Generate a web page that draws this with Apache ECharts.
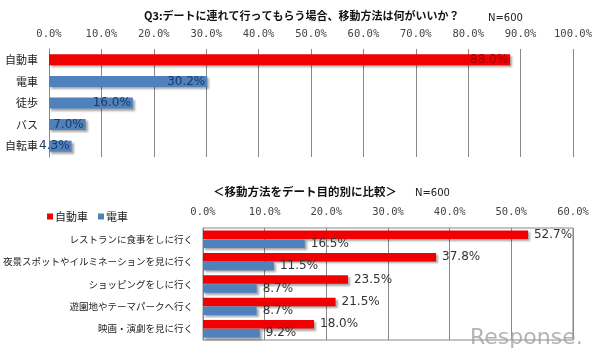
<!DOCTYPE html>
<html><head><meta charset="utf-8">
<script src="https://cdn.jsdelivr.net/npm/echarts@6/dist/echarts.min.js"></script>
<style>html,body{margin:0;padding:0;background:#fff}#c{width:597px;height:361px}</style>
</head><body><div id="c"></div>
<script>
const topCategories = ['自動車', '電車', '徒歩', 'バス', '自転車'];
const topValues = [88.0, 30.2, 16.0, 7.0, 4.3];
const topTicks = [0, 100, 10];
const bottomCategories = ['レストランに食事をしに行く', '夜景スポットやイルミネーションを見に行く', 'ショッピングをしに行く', '遊園地やテーマパークへ行く', '映画・演劇を見に行く'];
const carValues = [52.7, 37.8, 23.5, 21.5, 18.0];
const trainValues = [16.5, 11.5, 8.7, 8.7, 9.2];
const bottomTicks = [0, 60, 10];
const seriesNames = ['自動車', '電車'];

const RED = '#f00000', BLUE = '#4f81bd';
const FONT = '"Noto Sans CJK JP", sans-serif';
const shadow = {shadowColor: 'rgba(0,0,0,0.35)', shadowOffsetX: 2, shadowOffsetY: 2, shadowBlur: 2};
const pct = v => v.toFixed(1) + '%';

const chart = echarts.init(document.getElementById('c'), null, {renderer: 'canvas'});
chart.setOption({
  animation: false,
  textStyle: {fontFamily: FONT},
  title: [
    {text: 'Q3:デートに連れて行ってもらう場合、移動方法は何がいいか？', left: 139, top: 5,
     textStyle: {fontSize: 11, fontWeight: 'bold', color: '#111', fontFamily: FONT}},
    {text: 'N=600', left: 483, top: 8, textStyle: {fontSize: 10, fontWeight: 'normal', color: '#222', fontFamily: 'DejaVu Sans'}},
    {text: '＜移動方法をデート目的別に比較＞', left: 208, top: 181,
     textStyle: {fontSize: 11.5, fontWeight: 'bold', color: '#111', fontFamily: FONT}},
    {text: 'N=600', left: 410, top: 183, textStyle: {fontSize: 10, fontWeight: 'normal', color: '#222', fontFamily: 'DejaVu Sans'}}
  ],
  legend: {
    data: seriesNames, left: 42, top: 206, itemWidth: 6, itemHeight: 6, itemGap: 10,
    icon: 'rect', textStyle: {fontSize: 11, color: '#222', padding: [0, 0, 0, -3]}
  },
  grid: [
    {left: 49, right: 24, top: 49, bottom: 204, show: false, outerBoundsMode: 'none', containLabel: false},
    {left: 203, right: 24, top: 228, bottom: 21, show: true, borderColor: '#888', borderWidth: 1, outerBoundsMode: 'none', containLabel: false}
  ],
  xAxis: [
    {gridIndex: 0, type: 'value', position: 'top', min: topTicks[0], max: topTicks[1], interval: topTicks[2],
     axisLine: {show: false}, axisTick: {show: false},
     splitLine: {lineStyle: {color: '#888', width: 1}},
     axisLabel: {formatter: pct, fontSize: 10.5, color: '#444', margin: 9, fontFamily: 'DejaVu Sans Mono'}},
    {gridIndex: 1, type: 'value', position: 'top', min: bottomTicks[0], max: bottomTicks[1], interval: bottomTicks[2],
     axisLine: {show: false}, axisTick: {show: false},
     splitLine: {lineStyle: {color: '#888', width: 1}},
     axisLabel: {formatter: pct, fontSize: 10.5, color: '#444', margin: 10, fontFamily: 'DejaVu Sans Mono'}}
  ],
  yAxis: [
    {gridIndex: 0, type: 'category', data: topCategories, inverse: true,
     axisLine: {show: true, lineStyle: {color: '#888'}}, axisTick: {show: false},
     axisLabel: {fontSize: 11, color: '#222', margin: 11}},
    {gridIndex: 1, type: 'category', data: bottomCategories, inverse: true,
     axisLine: {show: true, lineStyle: {color: '#888'}}, axisTick: {show: false},
     axisLabel: {fontSize: 9.5, color: '#222', margin: 10}}
  ],
  series: [
    {type: 'bar', xAxisIndex: 0, yAxisIndex: 0, barWidth: 11,
     data: topValues.map((v, i) => ({
       value: v,
       itemStyle: Object.assign({color: i === 0 ? RED : BLUE}, shadow),
       label: {color: i === 0 ? '#9a0000' : '#1f3864'}
     })),
     label: {show: true, position: 'insideRight', distance: 2, formatter: p => pct(p.value), fontSize: 12, fontFamily: 'DejaVu Sans'}},
    {name: seriesNames[0], type: 'bar', xAxisIndex: 1, yAxisIndex: 1, data: carValues, barWidth: 8.5, barGap: '5%',
     itemStyle: Object.assign({color: RED}, shadow),
     label: {show: true, position: 'right', distance: 6, formatter: p => pct(p.value), fontSize: 12, color: '#333', fontFamily: 'DejaVu Sans'}},
    {name: seriesNames[1], type: 'bar', xAxisIndex: 1, yAxisIndex: 1, data: trainValues, barWidth: 8.5,
     itemStyle: Object.assign({color: BLUE}, shadow),
     label: {show: true, position: 'right', distance: 6, formatter: p => pct(p.value), fontSize: 12, color: '#333', fontFamily: 'DejaVu Sans'}}
  ],
  graphic: [
    {type: 'text', left: 470, top: 327, z: 10,
     style: {text: 'Response.', fontSize: 22, fontFamily: 'DejaVu Sans', fontWeight: 'normal', fill: 'rgba(160,160,160,0.8)'}}
  ]
});
</script></body></html>
